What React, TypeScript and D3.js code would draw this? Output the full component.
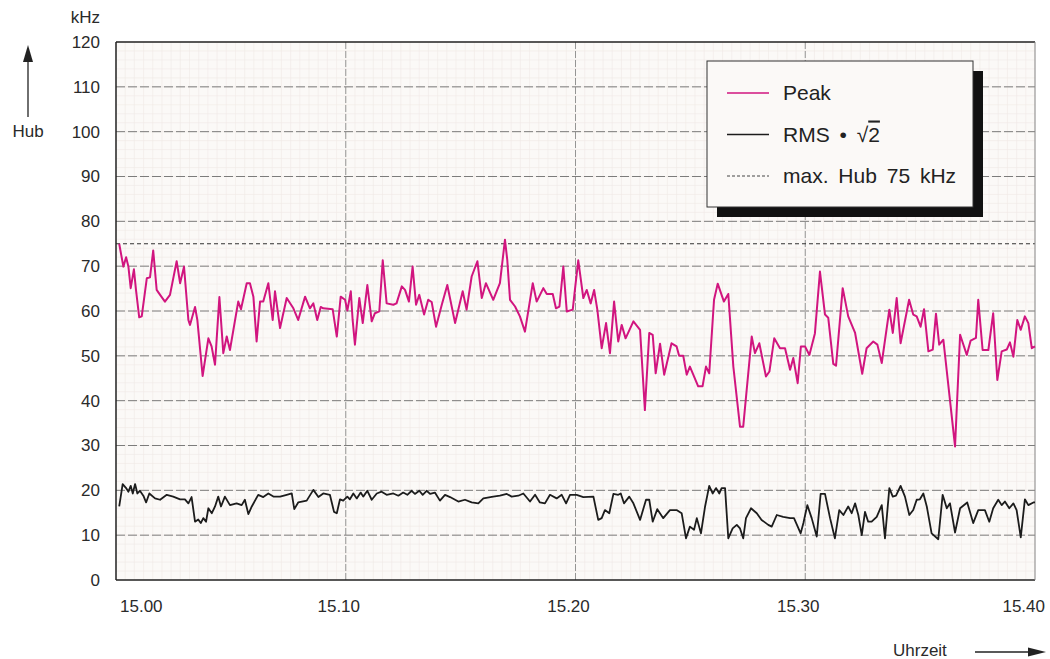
import React from 'react';
import * as d3 from 'd3';

// minutes after 15.00 and deviation in kHz
const peakData: [number, number][] = [
  [0.14, 75.0], [0.32, 69.9], [0.44, 72.0], [0.54, 69.9], [0.64, 65.1], [0.78, 69.3], [0.87, 64.7], [1.01, 58.6],
  [1.12, 58.8], [1.34, 67.3], [1.48, 67.5], [1.62, 73.5], [1.77, 64.7], [1.92, 63.6], [2.13, 62.1], [2.35, 63.6],
  [2.64, 71.1], [2.79, 66.2], [2.96, 69.9], [3.15, 58.0], [3.22, 56.9], [3.44, 60.9], [3.54, 58.0], [3.77, 45.5],
  [4.02, 53.9], [4.16, 52.1], [4.31, 48.0], [4.5, 63.1], [4.67, 50.6], [4.82, 54.3], [4.96, 51.3], [5.32, 62.1],
  [5.44, 60.4], [5.69, 66.2], [5.83, 66.2], [5.98, 63.2], [6.12, 53.2], [6.27, 62.1], [6.41, 62.1], [6.63, 66.2],
  [6.82, 58.0], [6.92, 64.4], [7.14, 56.2], [7.43, 62.9], [7.72, 60.6], [7.93, 58.0], [8.23, 63.2], [8.44, 60.6],
  [8.59, 61.7], [8.76, 58.0], [8.91, 60.9], [9.02, 60.6], [9.43, 60.4], [9.61, 54.3], [9.78, 63.2], [9.97, 62.5],
  [10.07, 60.1], [10.22, 64.4], [10.3, 58.0], [10.4, 52.5], [10.59, 62.9], [10.74, 57.3], [10.94, 65.8], [11.13, 57.7],
  [11.27, 59.5], [11.46, 59.9], [11.61, 71.3], [11.78, 61.7], [12.07, 61.4], [12.21, 61.7], [12.44, 65.5], [12.58, 64.7],
  [12.75, 62.1], [12.91, 69.9], [13.06, 61.4], [13.2, 63.6], [13.41, 59.2], [13.59, 62.5], [13.74, 62.0], [13.93, 56.5],
  [14.18, 61.4], [14.42, 65.8], [14.76, 57.3], [15.09, 64.4], [15.26, 60.3], [15.48, 67.7], [15.73, 71.1], [15.92, 62.9],
  [16.1, 66.2], [16.42, 62.5], [16.71, 66.2], [16.93, 75.9], [17.03, 71.4], [17.15, 62.5], [17.37, 61.0], [17.58, 58.8],
  [17.8, 55.4], [18.14, 66.2], [18.31, 62.1], [18.6, 65.1], [18.75, 63.8], [19.01, 63.8], [19.15, 60.6], [19.3, 61.0],
  [19.47, 69.9], [19.62, 59.9], [19.88, 60.3], [19.98, 65.0], [20.12, 71.3], [20.34, 62.9], [20.49, 64.7], [20.66, 61.7],
  [20.81, 64.7], [20.95, 60.3], [21.14, 51.7], [21.33, 57.3], [21.5, 50.6], [21.68, 62.1], [21.86, 53.2], [22.01, 56.9],
  [22.18, 53.9], [22.52, 57.7], [22.81, 55.8], [23.02, 37.9], [23.21, 55.1], [23.36, 54.7], [23.49, 46.1], [23.68, 52.7],
  [23.86, 45.8], [24.18, 52.8], [24.4, 52.1], [24.51, 50.0], [24.69, 50.0], [24.84, 45.8], [24.98, 47.6], [25.34, 43.2],
  [25.53, 43.2], [25.68, 47.6], [25.82, 46.1], [26.03, 62.5], [26.19, 66.1], [26.46, 62.1], [26.65, 63.8], [26.87, 47.6],
  [27.16, 34.2], [27.3, 34.2], [27.67, 54.3], [27.81, 50.6], [28.0, 52.8], [28.29, 45.4], [28.44, 46.5], [28.65, 53.9],
  [28.9, 51.7], [29.12, 51.7], [29.34, 46.9], [29.48, 49.5], [29.67, 43.9], [29.81, 52.1], [29.99, 52.1], [30.18, 50.2],
  [30.42, 55.0], [30.64, 68.8], [30.86, 59.2], [31.0, 58.5], [31.22, 48.2], [31.34, 47.8], [31.63, 65.1], [31.87, 58.8],
  [32.17, 55.1], [32.48, 46.0], [32.67, 51.7], [32.96, 53.2], [33.14, 52.5], [33.33, 48.4], [33.66, 60.3], [33.81, 55.1],
  [33.98, 62.9], [34.15, 52.8], [34.52, 62.5], [34.7, 59.2], [34.85, 58.8], [35.02, 56.5], [35.17, 60.4], [35.36, 51.0],
  [35.55, 51.4], [35.69, 59.4], [35.83, 52.5], [36.01, 53.6], [36.52, 29.8], [36.74, 54.7], [37.03, 50.2], [37.2, 53.4],
  [37.43, 54.0], [37.53, 62.5], [37.72, 51.3], [37.97, 51.3], [38.18, 59.5], [38.36, 44.6], [38.55, 51.0], [38.77, 51.4],
  [38.91, 53.0], [39.06, 49.8], [39.23, 58.0], [39.38, 55.8], [39.56, 58.8], [39.71, 57.3], [39.86, 51.7], [40.0, 52.1],
];

const rmsData: [number, number][] = [
  [0.14, 16.4], [0.29, 21.4], [0.44, 20.5], [0.54, 19.7], [0.64, 21.0], [0.73, 19.3], [0.83, 21.4], [0.93, 19.3],
  [1.04, 19.9], [1.19, 18.8], [1.31, 17.3], [1.45, 19.3], [1.7, 18.2], [1.92, 17.9], [2.21, 19.0], [2.49, 18.6],
  [2.79, 18.0], [3.0, 18.0], [3.15, 17.1], [3.29, 18.5], [3.44, 13.0], [3.58, 13.5], [3.69, 12.7], [3.8, 13.8],
  [3.92, 13.0], [4.02, 16.0], [4.17, 14.9], [4.31, 16.4], [4.45, 18.6], [4.57, 16.4], [4.74, 18.6], [4.96, 16.7],
  [5.25, 17.1], [5.47, 16.7], [5.61, 17.9], [5.76, 14.7], [5.91, 16.4], [6.19, 19.0], [6.41, 18.5], [6.63, 19.3],
  [6.85, 18.6], [7.14, 18.6], [7.43, 19.0], [7.65, 19.3], [7.76, 15.8], [7.93, 17.3], [8.3, 17.7], [8.59, 20.1],
  [8.81, 18.5], [9.02, 19.3], [9.31, 19.0], [9.49, 15.2], [9.61, 14.9], [9.75, 18.0], [9.89, 17.7], [10.07, 18.6],
  [10.18, 18.0], [10.33, 19.3], [10.48, 18.2], [10.65, 19.5], [10.76, 18.6], [10.94, 19.9], [11.13, 17.9], [11.35, 19.3],
  [11.56, 19.7], [11.78, 19.0], [12.07, 19.3], [12.29, 18.8], [12.5, 19.5], [12.68, 19.0], [12.87, 19.9], [13.01, 19.2],
  [13.2, 19.9], [13.35, 19.0], [13.52, 19.9], [13.67, 19.2], [13.88, 19.5], [14.1, 17.7], [14.32, 19.0], [14.54, 18.5],
  [14.9, 17.5], [15.19, 17.9], [15.48, 17.3], [15.77, 17.1], [15.99, 18.2], [16.42, 18.6], [16.71, 18.8], [17.01, 19.2],
  [17.22, 18.6], [17.51, 18.8], [17.73, 19.3], [18.02, 17.5], [18.24, 19.0], [18.45, 17.3], [18.67, 17.1], [18.89, 19.0],
  [19.18, 18.2], [19.4, 19.0], [19.59, 17.1], [19.76, 19.0], [20.05, 19.0], [20.34, 18.5], [20.78, 18.6], [20.99, 13.4],
  [21.14, 13.8], [21.28, 15.6], [21.47, 14.9], [21.65, 19.2], [21.86, 19.0], [21.97, 19.3], [22.11, 17.1], [22.34, 18.6],
  [22.52, 17.1], [22.81, 13.4], [23.07, 17.9], [23.21, 17.9], [23.36, 13.0], [23.56, 15.8], [23.82, 13.8], [24.11, 15.6],
  [24.4, 15.6], [24.62, 14.9], [24.81, 9.3], [24.98, 11.9], [25.16, 11.2], [25.28, 13.8], [25.46, 10.4], [25.64, 16.4],
  [25.82, 21.0], [25.97, 19.3], [26.12, 20.5], [26.26, 19.3], [26.36, 20.5], [26.51, 20.5], [26.65, 9.3], [26.84, 11.5],
  [27.02, 12.3], [27.16, 11.5], [27.3, 9.3], [27.42, 13.8], [27.64, 16.0], [27.89, 14.9], [28.1, 13.4], [28.39, 12.3],
  [28.54, 11.9], [28.76, 14.5], [29.04, 14.1], [29.34, 13.8], [29.51, 13.8], [29.8, 10.4], [29.92, 12.7], [30.09, 16.7],
  [30.28, 13.8], [30.5, 9.7], [30.67, 19.2], [30.86, 19.2], [31.08, 13.8], [31.29, 9.3], [31.48, 15.6], [31.66, 14.5],
  [31.87, 16.4], [32.02, 14.9], [32.17, 17.1], [32.31, 14.5], [32.46, 10.0], [32.6, 15.2], [32.74, 13.0], [32.89, 13.0],
  [33.11, 14.1], [33.33, 16.7], [33.47, 9.3], [33.66, 20.5], [33.81, 18.6], [33.95, 18.8], [34.15, 21.0], [34.34, 18.6],
  [34.53, 14.5], [34.7, 15.6], [34.85, 17.9], [34.99, 18.0], [35.14, 19.3], [35.29, 16.4], [35.5, 10.4], [35.79, 9.1],
  [35.98, 19.0], [36.16, 16.0], [36.3, 17.1], [36.52, 10.6], [36.74, 16.0], [37.05, 17.3], [37.31, 12.7], [37.53, 15.6],
  [37.82, 15.6], [38.01, 13.0], [38.18, 16.0], [38.4, 17.9], [38.55, 16.7], [38.69, 17.5], [38.88, 16.0], [39.06, 17.1],
  [39.2, 15.6], [39.38, 9.5], [39.56, 18.0], [39.71, 16.7], [39.93, 17.3], [40.0, 17.3],
];

const yTickValues = [0, 10, 20, 30, 40, 50, 60, 70, 80, 90, 100, 110, 120];
const xTickValues = [0, 10, 20, 30, 40];
const xTickLabels = ['15.00', '15.10', '15.20', '15.30', '15.40'];
const maxHub = 75;

const legendItems = [
  { key: 'peak', label: 'Peak' },
  { key: 'rms', label: 'RMS' },
  { key: 'max', label: 'max. Hub 75 kHz' },
];

const PEAK = '#d1157f';
const INK = '#1c1c1c';
const FONT = '"Liberation Sans", Arial, Helvetica, sans-serif';

export default function App() {
  const width = 1050;
  const height = 659;
  const left = 116, right = 1035, top = 42, bottom = 580;

  const x = d3.scaleLinear().domain([0, 40]).range([left, right]);
  const y = d3.scaleLinear().domain([0, 120]).range([bottom, top]);

  const line = d3.line<[number, number]>()
    .x(d => x(d[0]))
    .y(d => y(d[1]));

  // faint graph-paper grid
  const minorY = d3.range(0, 121, 2);
  const minorX = d3.range(0, 40.01, 0.4);

  const lg = { x: 707, y: 61, w: 266, h: 146 };

  return (
    <svg width={width} height={height} style={{ position: 'absolute', left: 0, top: 0, background: '#fff' }}
      fontFamily={FONT}>
      <rect x={left} y={top} width={right - left} height={bottom - top} fill="#fbf9f7" />
      <g stroke="#f0e9e6" strokeWidth={0.6}>
        {minorY.map(v => <line key={'my' + v} x1={left} x2={right} y1={y(v)} y2={y(v)} />)}
        {minorX.map((v, i) => <line key={'mx' + i} x1={x(v)} x2={x(v)} y1={top} y2={bottom} />)}
      </g>

      {/* major grid */}
      <g stroke="#6e6e6e" strokeWidth={0.9} strokeDasharray="9,3">
        {yTickValues.filter(v => v > 0 && v < 120).map(v => (
          <line key={'gy' + v} x1={left} x2={right} y1={y(v)} y2={y(v)} />
        ))}
      </g>
      <g stroke="#8a8a8a" strokeWidth={0.9} strokeDasharray="7,2">
        {xTickValues.filter(v => v > 0 && v < 40).map(v => (
          <line key={'gx' + v} x1={x(v)} x2={x(v)} y1={top} y2={bottom} />
        ))}
      </g>

      {/* 75 kHz limit */}
      <line x1={left} x2={right} y1={y(maxHub)} y2={y(maxHub)} stroke="#333" strokeWidth={1.2} strokeDasharray="4,3" />

      {/* frame */}
      <line x1={left} x2={right} y1={top} y2={top} stroke="#222" strokeWidth={1.5} />
      <line x1={left} x2={right} y1={bottom} y2={bottom} stroke="#222" strokeWidth={1.5} />
      <line x1={left} x2={left} y1={top} y2={bottom} stroke="#222" strokeWidth={1.5} />
      <line x1={right} x2={right} y1={top} y2={bottom} stroke="#888" strokeWidth={1} />

      {/* series */}
      <path d={line(rmsData) || ''} fill="none" stroke={INK} strokeWidth={1.8} strokeLinejoin="round" />
      <path d={line(peakData) || ''} fill="none" stroke={PEAK} strokeWidth={2} strokeLinejoin="round" />

      {/* y axis labels */}
      <g fontSize={17} fill="#2a2a2a" textAnchor="end">
        {yTickValues.map(v => (
          <text key={'yl' + v} x={100} y={y(v)} dy="0.35em">{v}</text>
        ))}
        <text x={100} y={23}>kHz</text>
      </g>
      <text x={28} y={137} fontSize={17} fill="#2a2a2a" textAnchor="middle">Hub</text>
      <line x1={28} x2={28} y1={117} y2={58} stroke="#222" strokeWidth={1.3} />
      <path d="M28,45 L23,62 L33,62 Z" fill="#222" />

      {/* x axis labels */}
      <g fontSize={17} fill="#2a2a2a">
        {xTickValues.map((v, i) => {
          const first = i === 0;
          const last = i === xTickValues.length - 1;
          const tx = first ? x(v) + 4 : last ? x(v) + 10 : x(v) - 7;
          return (
            <text key={'xl' + v} x={tx} y={612} textAnchor={first ? 'start' : last ? 'end' : 'middle'}>
              {xTickLabels[i]}
            </text>
          );
        })}
      </g>
      <text x={893} y={656} fontSize={17} fill="#2a2a2a">Uhrzeit</text>
      <line x1={975} x2={1030} y1={652} y2={652} stroke="#222" strokeWidth={1.3} />
      <path d="M1046,652 L1028,647.5 L1028,656.5 Z" fill="#222" />

      {/* legend */}
      <rect x={lg.x + 10} y={lg.y + 10} width={lg.w} height={lg.h} fill="#111" />
      <rect x={lg.x} y={lg.y} width={lg.w} height={lg.h} fill="#fbf9f7" stroke="#333" strokeWidth={1} />
      {legendItems.map((it, i) => {
        const cy = lg.y + 32 + i * 41.5;
        return (
          <g key={it.key}>
            <line x1={lg.x + 20} x2={lg.x + 62} y1={cy} y2={cy}
              stroke={it.key === 'peak' ? PEAK : it.key === 'rms' ? INK : '#444'}
              strokeWidth={it.key === 'max' ? 1 : 1.3}
              strokeDasharray={it.key === 'max' ? '3,2' : undefined} />
            <text x={lg.x + 76} y={cy + 7} fontSize={21} fill="#222" wordSpacing={4}>
              {it.label}
              {it.key === 'rms' ? (
                <>
                  <tspan> • √</tspan>
                  <tspan style={{ textDecoration: 'overline' }}>2</tspan>
                </>
              ) : null}
            </text>
          </g>
        );
      })}
    </svg>
  );
}
